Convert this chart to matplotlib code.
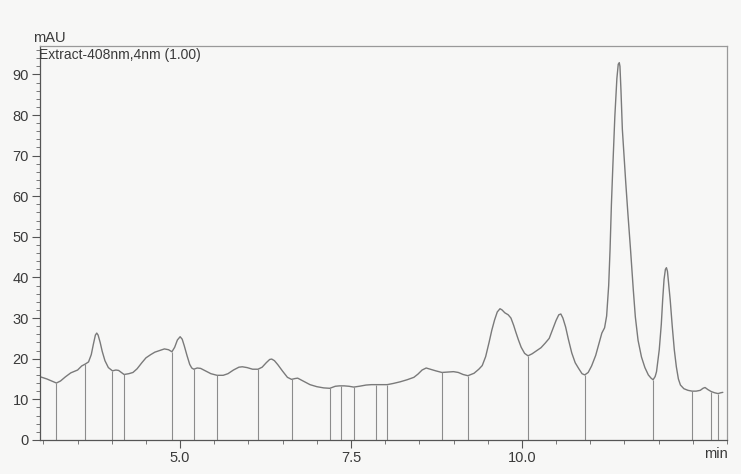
import numpy as np
import matplotlib
matplotlib.use("Agg")
import matplotlib.pyplot as plt

# Detector trace (retention time in min, absorbance in mAU)
time_min = [
    2.96, 3.05, 3.12, 3.19, 3.25, 3.32, 3.40, 3.50, 3.56, 3.615, 3.66, 3.70, 3.73,
    3.76, 3.78, 3.80, 3.83, 3.86, 3.90, 3.95, 4.01, 4.06, 4.10, 4.14, 4.18, 4.25,
    4.31, 4.37, 4.44, 4.50, 4.57, 4.63, 4.70, 4.77, 4.83, 4.88, 4.92, 4.96, 5.00,
    5.03, 5.06, 5.10, 5.14, 5.17, 5.20, 5.25, 5.30, 5.37, 5.45, 5.54, 5.63, 5.70,
    5.78, 5.86, 5.91, 5.98, 6.06, 6.14, 6.20, 6.26, 6.31, 6.34, 6.38, 6.43, 6.50,
    6.57, 6.63, 6.68, 6.72, 6.80, 6.90, 7.00, 7.10, 7.19, 7.27, 7.33, 7.40, 7.47,
    7.54, 7.62, 7.72, 7.80, 7.87, 7.95, 8.03, 8.12, 8.22, 8.32, 8.42, 8.48, 8.54,
    8.60, 8.66, 8.74, 8.83, 8.92, 9.00, 9.07, 9.14, 9.21, 9.30, 9.37, 9.42, 9.47,
    9.52, 9.56, 9.60, 9.64, 9.68, 9.71, 9.75, 9.80, 9.84, 9.88, 9.91, 9.95, 9.99,
    10.04, 10.09, 10.15, 10.21, 10.28, 10.34, 10.40, 10.45, 10.50, 10.54, 10.57,
    10.60, 10.64, 10.68, 10.73, 10.78, 10.83, 10.88, 10.92, 10.97, 11.02, 11.08,
    11.13, 11.17, 11.21, 11.24, 11.27, 11.29, 11.31, 11.33, 11.36, 11.39, 11.41,
    11.425, 11.435, 11.45, 11.47, 11.50, 11.52, 11.55, 11.59, 11.63, 11.66, 11.70,
    11.75, 11.80, 11.85, 11.89, 11.92, 11.95, 11.97, 11.99, 12.01, 12.04, 12.06,
    12.08, 12.10, 12.115, 12.13, 12.15, 12.17, 12.20, 12.23, 12.26, 12.29, 12.32,
    12.37, 12.43, 12.49, 12.55, 12.61, 12.65, 12.68, 12.72, 12.77, 12.82, 12.87,
    12.91, 12.94,
]
signal_mau = [
    15.5, 15.0, 14.5, 14.0, 14.5, 15.5, 16.5, 17.2, 18.2, 18.7, 19.2, 21.0, 23.5,
    25.8, 26.3, 25.8, 24.0, 21.8, 19.5, 17.8, 17.0, 17.2, 17.1, 16.6, 16.1, 16.3,
    16.6, 17.5, 19.0, 20.2, 21.0, 21.6, 22.0, 22.4, 22.2, 21.7, 22.8, 24.6, 25.4,
    24.8, 23.2, 20.8, 18.6, 17.7, 17.4, 17.7, 17.6, 17.0, 16.3, 15.9, 15.9, 16.3,
    17.2, 17.9, 18.0, 17.8, 17.4, 17.4, 17.9, 19.0, 19.8, 19.9, 19.5, 18.5, 16.9,
    15.4, 14.9, 15.1, 15.2, 14.5, 13.6, 13.1, 12.8, 12.7, 13.2, 13.3, 13.3, 13.2,
    13.0, 13.2, 13.5, 13.6, 13.6, 13.6, 13.6, 13.9, 14.3, 14.8, 15.4, 16.2, 17.2,
    17.7, 17.4, 17.0, 16.6, 16.7, 16.8, 16.6, 16.1, 15.8, 16.4, 17.4, 18.3, 20.5,
    24.0, 27.0, 29.5, 31.5, 32.3, 32.0, 31.3, 30.8, 30.0, 28.2, 26.6, 24.6, 22.8,
    21.3, 20.7, 21.2, 21.9, 22.7, 23.8, 25.0, 27.2, 29.4, 30.8, 31.0,
    30.0, 27.8, 24.8, 21.4, 19.0, 17.6, 16.3, 16.0, 16.6, 18.2, 20.8,
    23.8, 26.3, 27.6, 30.5, 38.0, 46.8, 58.0, 67.0, 79.6, 89.0, 92.5,
    92.9, 92.0, 86.0, 76.5, 68.5, 63.3, 56.0, 46.8, 37.0, 30.3, 24.5,
    20.4, 17.8, 16.0, 15.2, 14.8, 15.6, 16.8, 19.5, 22.2, 28.5, 34.5,
    39.5, 42.0, 42.4, 41.5, 38.0, 34.5, 28.0, 22.2, 18.0, 15.0, 13.5,
    12.6, 12.2, 12.0, 12.0, 12.2, 12.7, 12.9, 12.4, 11.9, 11.6, 11.4,
    11.6, 11.7,
]

# Peak-boundary (integration) marks
boundary_min = [
    3.19, 3.615, 4.01, 4.18, 4.88, 5.20, 5.54, 6.14, 6.63, 7.19, 7.36, 7.54,
    7.87, 8.03, 8.83, 9.21, 10.09, 10.92, 11.92, 12.49, 12.77, 12.87,
]

x_ticks = [5.0, 7.5, 10.0]
y_ticks = [0, 10, 20, 30, 40, 50, 60, 70, 80, 90]

plt.rcParams["font.family"] = ["Liberation Sans", "DejaVu Sans"]
bg = "#f7f7f6"
ink = "#3a3a3a"
trace_col = "#7a7a7a"

fig = plt.figure(figsize=(7.41, 4.74), dpi=100, facecolor=bg)
ax = fig.add_axes([0.054, 0.072, 0.927, 0.831], facecolor=bg)

t = np.asarray(time_min)
s = np.asarray(signal_mau)
ax.plot(t, s, color=trace_col, lw=1.0, solid_joinstyle="round",
        solid_capstyle="round")

b = np.asarray(boundary_min)
ax.vlines(b, 0, np.interp(b, t, s), color="#8c8c8c", lw=0.8)

ax.set_xlim(2.95, 13.0)
ax.set_ylim(0, 97)

ax.set_xticks(x_ticks)
ax.set_xticklabels([f"{v:.1f}" for v in x_ticks])
ax.set_xticks(np.arange(3.0, 13.01, 0.5), minor=True)
ax.set_yticks(y_ticks)
ax.set_yticks(np.arange(0, 97, 2), minor=True)

ax.tick_params(axis="both", which="major", direction="out", length=6,
               width=0.8, color="#555555", labelsize=10.5, labelcolor=ink, pad=2)
ax.tick_params(axis="both", which="minor", direction="out", length=3,
               width=0.7, color="#777777")

for side in ("left", "bottom"):
    ax.spines[side].set_color("#555555")
    ax.spines[side].set_linewidth(0.9)
for side in ("top", "right"):
    ax.spines[side].set_color("#999999")
    ax.spines[side].set_linewidth(0.9)

ax.text(-0.002, 0.995, "Extract-408nm,4nm (1.00)", transform=ax.transAxes,
        ha="left", va="top", fontsize=10, color=ink)
fig.text(0.045, 0.912, "mAU", ha="left", va="baseline", fontsize=10.5, color=ink)
fig.text(0.982, 0.028, "min", ha="right", va="bottom", fontsize=10.5, color=ink)

fig.savefig("out.png", dpi=100, facecolor=bg)
